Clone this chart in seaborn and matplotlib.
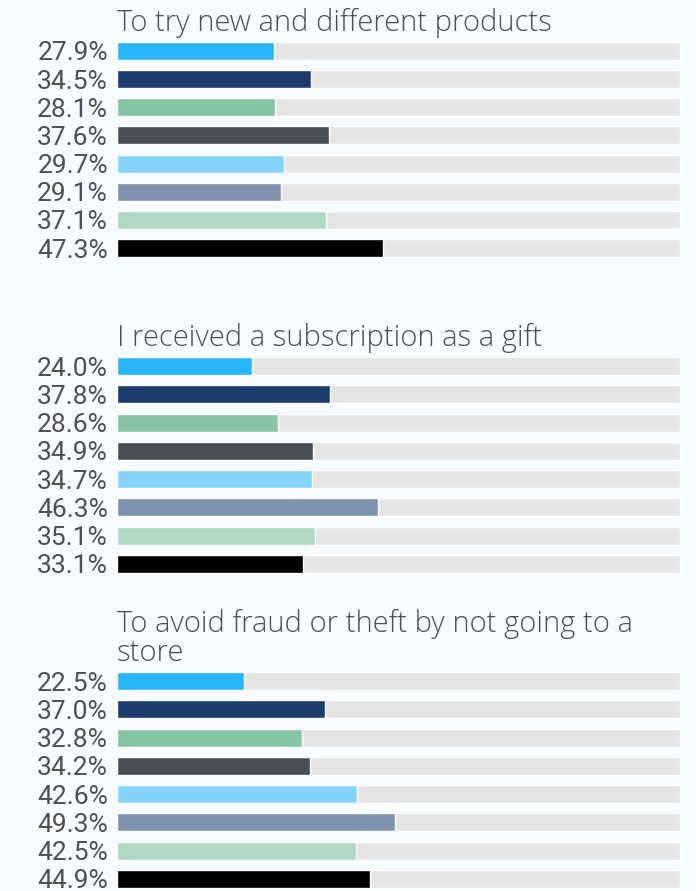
import matplotlib
matplotlib.use("Agg")
import matplotlib.pyplot as plt
import pandas as pd
import seaborn as sns

titles = [
    "To try new and different products",
    "I received a subscription as a gift",
    "To avoid fraud or theft by not going to a\nstore",
]
groups = ["g1", "g2", "g3", "g4", "g5", "g6", "g7", "g8"]
try_new = [27.9, 34.5, 28.1, 37.6, 29.7, 29.1, 37.1, 47.3]
gift = [24.0, 37.8, 28.6, 34.9, 34.7, 46.3, 35.1, 33.1]
avoid_fraud = [22.5, 37.0, 32.8, 34.2, 42.6, 49.3, 42.5, 44.9]
track = [100] * 8

colors = ["#29b6f6", "#1d3c6e", "#86c5a4", "#4a4f55",
          "#84d4fd", "#7f93ae", "#b0d9c3", "#000000"]
bg = "#f7fcfe"
text_col = "#4f4f4f"

sns.set_theme(style="white")
plt.rcParams["font.family"] = ["Roboto", "DejaVu Sans"]

W, H = 696, 891
fig = plt.figure(figsize=(W / 100, H / 100), dpi=100, facecolor=bg)

# pixel layout: (axis top, axis bottom) per panel
spans = [(36.9, 262.1), (351.9, 578.1), (666.9, 893.1)]
left, right = 117, 680

for title, vals, (top, bot) in zip(titles, [try_new, gift, avoid_fraud], spans):
    ax = fig.add_axes([left / W, 1 - bot / H, (right - left) / W, (bot - top) / H])
    ax.set_facecolor(bg)
    df = pd.DataFrame({"group": groups, "value": vals, "track": track})
    sns.barplot(data=df, x="track", y="group", color="#e5e5e5", width=0.64,
                order=groups, saturation=1, ax=ax)
    sns.barplot(data=df, x="value", y="group", hue="group",
                palette=dict(zip(groups, colors)), width=0.64, order=groups,
                saturation=1, legend=False, ax=ax)
    ax.set_xlim(0, 100)
    ax.set_ylim(7.5, -0.5)
    ax.set_xticks([])
    ax.set_yticks(range(len(groups)))
    ax.set_yticklabels([f"{v:.1f}%" for v in vals], fontsize=19,
                       color=text_col)
    ax.tick_params(axis="y", length=0, pad=6.5)
    ax.set_xlabel("")
    ax.set_ylabel("")
    sns.despine(ax=ax, left=True, bottom=True)
    ax.annotate(title, xy=(0, 1), xycoords="axes fraction", xytext=(0, 4.5),
                textcoords="offset points", ha="left", va="baseline",
                fontsize=21, fontweight="light", color=text_col,
                family=["Open Sans", "DejaVu Sans"], linespacing=0.95)

fig.savefig("out.png", dpi=100, facecolor=bg)
